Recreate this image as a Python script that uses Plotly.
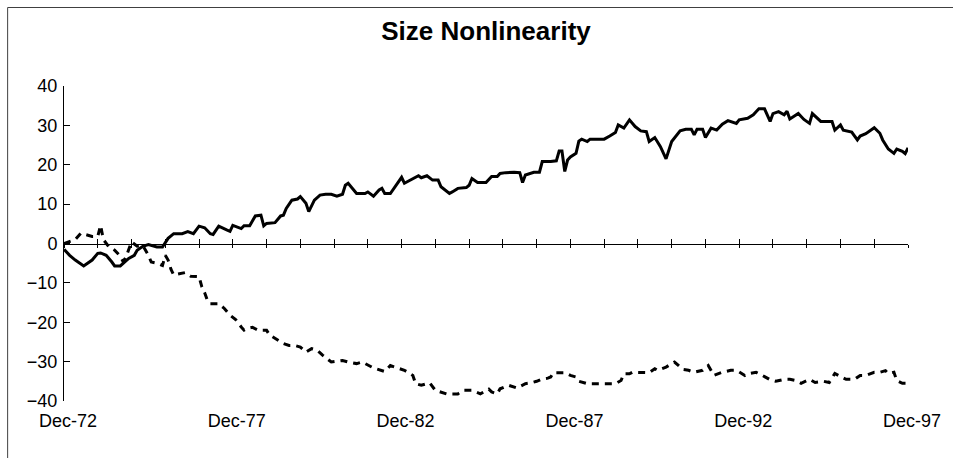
import plotly.graph_objects as go

# Month offsets from Dec-72 and the values of the two series
solid_months = [0, 2, 4, 7, 10, 12, 13, 15, 17, 18, 20, 22, 23, 25, 26, 28, 30, 33, 35, 37,
                39, 42, 44, 46, 48, 50, 52, 53, 55, 58, 59, 60, 63, 64, 66, 68, 70, 71, 72, 75,
                77, 78, 79, 81, 83, 84, 86, 87, 89, 91, 93, 95, 97, 99, 100, 101, 104, 107, 108, 110,
                112, 113, 114, 116, 118, 120, 121, 123, 125, 126, 127, 129, 131, 133, 134, 137, 138, 140, 143, 144,
                145, 147, 149, 150, 152, 154, 155, 157, 160, 162, 163, 164, 167, 169, 170, 173, 175, 176, 177, 178,
                179, 180, 182, 183, 184, 186, 187, 192, 194, 196, 197, 199, 201, 203, 205, 207, 208, 210, 212, 214,
                216, 219, 221, 223, 224, 225, 227, 228, 230, 232, 234, 236, 239, 240, 243, 245, 247, 249, 251, 252,
                254, 256, 257, 258, 261, 263, 265, 266, 269, 273, 274, 276, 277, 280, 282, 283, 285, 288, 290, 291,
                293, 295, 296, 298, 299, 300]
solid_values = [-1.5, -3, -4.2, -5.7, -4.2, -2.5, -2.4, -3, -4.7, -5.7, -5.7, -4.5, -3.8, -3, -1.7, -0.7, -0.3, -0.9, -0.9, 1.3,
                2.5, 2.5, 3, 2.5, 4.4, 4.0, 2.5, 2.3, 4.4, 3.4, 3.1, 4.6, 3.8, 4.5, 4.5, 7, 7.2, 4.5, 5.1, 5.3,
                7, 7.2, 8.9, 11, 11.3, 11.9, 10.2, 8.1, 11, 12.3, 12.5, 12.5, 12, 12.5, 14.8, 15.3, 12.7, 12.7, 13.1, 12,
                13.6, 14, 12.7, 12.7, 14.8, 16.8, 15.3, 16.1, 17, 17.2, 16.7, 17.2, 16.1, 16.1, 14.4, 12.7, 13.1, 14, 14.2, 14.8,
                16.5, 15.5, 15.5, 15.5, 17, 17, 17.8, 18, 18.1, 18, 15.5, 17.4, 18.1, 18.1, 20.8, 20.8, 21, 23.5, 23.5, 18.3,
                21.2, 22, 22.9, 26, 26.5, 25.9, 26.5, 26.5, 27.3, 28.2, 30.1, 29.3, 31.4, 29.7, 28.6, 28.4, 25.9, 26.9, 24.6, 21.5,
                25.9, 28.6, 29, 29, 27.6, 29, 29, 26.9, 29.3, 28.8, 30.3, 31.2, 30.5, 31.4, 31.8, 32.7, 34.2, 34.2, 31, 33,
                33.5, 32.7, 33.6, 31.6, 33, 31.5, 30.5, 33, 31, 31, 28.8, 30.1, 28.8, 28.3, 26.3, 27.3, 27.9, 29.4, 28, 26.3,
                24, 22.9, 24, 23.4, 22.8, 24.3]

dashed_months = [0, 2, 4, 6, 8, 10, 12, 13, 14, 16, 18, 20, 21, 22, 24, 26, 28, 30, 31, 33,
                 35, 36, 37, 38, 39, 41, 43, 45, 48, 49, 50, 51, 52, 55, 57, 59, 60, 61, 63, 64,
                 65, 67, 69, 71, 72, 73, 76, 78, 80, 82, 84, 86, 88, 90, 92, 95, 99, 101, 104, 106,
                 110, 114, 116, 118, 121, 124, 125, 127, 130, 132, 136, 140, 142, 145, 148, 151, 152, 154, 155, 158,
                 161, 164, 166, 168, 170, 172, 173, 174, 178, 180, 182, 183, 186, 196, 198, 199, 201, 202, 205, 208,
                 210, 211, 214, 217, 220, 222, 224, 227, 229, 230, 231, 234, 237, 239, 242, 243, 246, 249, 251, 253,
                 256, 258, 260, 262, 265, 267, 270, 272, 274, 276, 278, 281, 283, 285, 288, 290, 292, 293, 295, 296,
                 298, 300]
dashed_values = [0, 0.5, 1, 2.6, 2.1, 1.8, 1.8, 4.6, 1.0, -0.9, -1.7, -3.2, -4.6, -3.5, 0.4, -0.7, -0.5, -3, -4.7, -5,
                 -5.6, -3, -4.2, -6.5, -8, -7.6, -7.4, -8.3, -8.4, -11, -12.5, -14.5, -15.3, -15.3, -16.5, -18.2, -18.7, -19.3, -21.2, -22,
                 -21.6, -21.3, -22, -21.9, -22, -23.2, -24.6, -25.4, -25.9, -25.9, -26.3, -27.6, -26.7, -27.1, -28.4, -30.1, -29.7, -30.1, -30.5, -30.1,
                 -31.6, -32.5, -31, -31.4, -32.2, -33.5, -35.6, -36, -35.4, -37.3, -38.2, -38.2, -37.3, -37.3, -38.2, -37, -37.7, -38.2, -36.9, -36,
                 -36.7, -35.6, -35.4, -35, -34.4, -34.2, -33.9, -32.8, -32.8, -33.5, -33.9, -35, -35.6, -35.6, -34.8, -33.1, -33.1, -32.7, -32.7, -32.8,
                 -31.8, -32.2, -31.4, -30.1, -32, -32.2, -32.7, -32.2, -31, -32.2, -33.5, -32.7, -32.2, -32.2, -33.5, -33.1, -32.7, -33.8, -34.6, -35,
                 -34.5, -34.5, -34.8, -35.5, -34.5, -35.3, -35, -35.3, -33, -33.8, -34.5, -34.5, -33.5, -33.5, -32.7, -32.7, -32.3, -33, -32.7, -34.8,
                 -35.5, -35.5]

label_months = [0, 60, 120, 180, 240, 300]
label_text = ["Dec-72", "Dec-77", "Dec-82", "Dec-87", "Dec-92", "Dec-97"]
year_ticks = list(range(0, 301, 12))
y_ticks = [-40, -30, -20, -10, 0, 10, 20, 30, 40]

FONT = "Liberation Sans, Arial, sans-serif"
X_RANGE = [0, 300]

fig = go.Figure()
fig.add_trace(go.Scatter(x=solid_months, y=solid_values, mode="lines",
                         line=dict(color="black", width=3), showlegend=False,
                         hoverinfo="skip"))
fig.add_trace(go.Scatter(x=dashed_months, y=dashed_values, mode="lines",
                         line=dict(color="black", width=3, dash="7px,6px"), showlegend=False,
                         hoverinfo="skip"))
# empty traces so the two overlaid zero-line axes (up and down tick halves) get drawn
for ax in ("x2", "x3"):
    fig.add_trace(go.Scatter(x=[], y=[], xaxis=ax, yaxis="y", mode="lines",
                             showlegend=False, hoverinfo="skip"))

# plot area in pixels: x 64..910, y 86..401
L, R, T, B = 64, 43, 86, 57
W, H = 953 - L - R, 458 - T - B

def px_x(p):
    return (p - L) / W

def px_y(p):
    return (458 - B - p) / H

fig.update_layout(
    width=953, height=458,
    margin=dict(l=L, r=R, t=T, b=B, pad=0),
    paper_bgcolor="white", plot_bgcolor="white",
    font=dict(family=FONT, size=18, color="black"),
    title=dict(text="<b>Size Nonlinearity</b>", x=0.5, xref="paper", xanchor="center",
               y=1 - 31 / 458, yanchor="middle", font=dict(size=26, family=FONT, color="black")),
    xaxis=dict(range=X_RANGE, tickmode="array", tickvals=label_months, ticktext=label_text,
               ticks="", showline=False, showgrid=False, zeroline=False,
               ticklabelstandoff=7, ticklabelshift=4),
    xaxis2=dict(range=X_RANGE, overlaying="x", anchor="free", position=0.5, side="bottom",
                tickmode="array", tickvals=year_ticks, showticklabels=False,
                ticks="inside", ticklen=5, tickcolor="black", tickwidth=1,
                showline=True, linecolor="black", linewidth=1,
                showgrid=False, zeroline=False),
    xaxis3=dict(range=X_RANGE, overlaying="x", anchor="free", position=0.5, side="bottom",
                tickmode="array", tickvals=year_ticks, showticklabels=False,
                ticks="outside", ticklen=3, tickcolor="black", tickwidth=1,
                showline=False, showgrid=False, zeroline=False),
    yaxis=dict(range=[-40, 40], tickmode="array", tickvals=y_ticks,
               ticks="inside", ticklen=6, tickcolor="black", tickwidth=1,
               showline=True, linecolor="black", linewidth=1,
               showgrid=False, zeroline=False, ticklabelstandoff=2),
    shapes=[
        dict(type="line", xref="paper", yref="paper", x0=px_x(7.5), x1=px_x(7.5),
             y0=px_y(7.5), y1=px_y(470), line=dict(color="#404040", width=1)),
        dict(type="line", xref="paper", yref="paper", x0=px_x(7.5), x1=px_x(965),
             y0=px_y(7.5), y1=px_y(7.5), line=dict(color="#404040", width=1)),
    ],
)

fig.write_html("out.html")
